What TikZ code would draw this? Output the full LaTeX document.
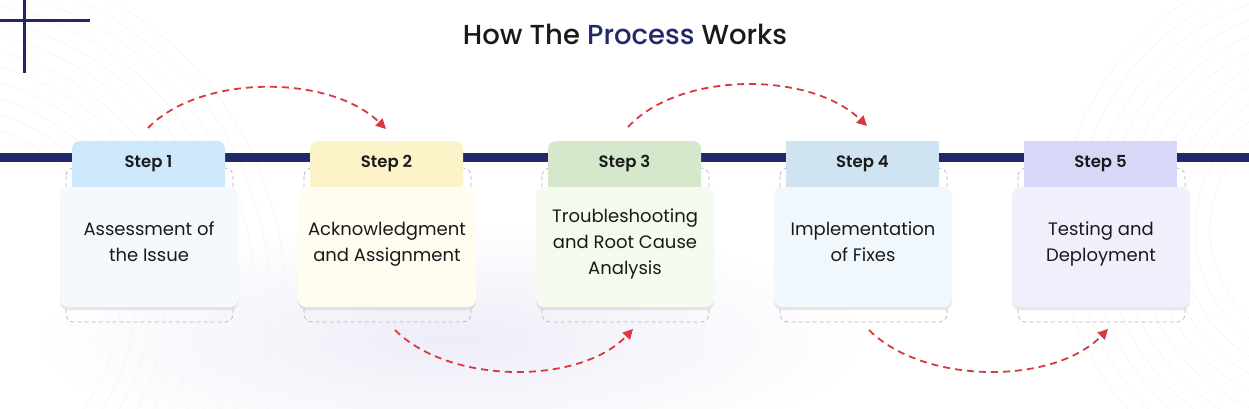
\documentclass[tikz,border=0pt]{standalone}
\usepackage{fontspec}
\setmainfont{Poppins}[BoldFont={Poppins SemiBold}]
\newfontfamily\popmed{Poppins Medium}
\usetikzlibrary{shadows,arrows.meta}
\definecolor{navy}{HTML}{22296B}
\definecolor{arrowred}{HTML}{D63A40}
\definecolor{txt}{HTML}{1A1A1A}
\definecolor{glow}{HTML}{EEEDF8}
\definecolor{tabA}{HTML}{CDE8FB}\definecolor{cardA}{HTML}{F5F9FE}
\definecolor{tabB}{HTML}{FDF3C9}\definecolor{cardB}{HTML}{FFFDF0}
\definecolor{tabC}{HTML}{D5E8CC}\definecolor{cardC}{HTML}{F5FCEF}
\definecolor{tabD}{HTML}{CFE4F0}\definecolor{cardD}{HTML}{F0F7FD}
\definecolor{tabE}{HTML}{D7D8F7}\definecolor{cardE}{HTML}{F0F0FC}
\tikzset{
  tabbox/.style={minimum width=153pt, minimum height=54pt, inner sep=0pt, draw=none},
  cardbox/.style={minimum width=178pt, minimum height=120pt, inner sep=0pt, rounded corners=8pt, draw=none,
    drop shadow={opacity=0.18, shadow xshift=0pt, shadow yshift=-3pt}},
  steplabel/.style={font=\bfseries\fontsize{16.5}{19}\selectfont, text=txt, inner sep=0pt},
  cardtext/.style={font=\fontsize{18}{26}\selectfont, text=txt, align=center, inner sep=0pt},
  outline/.style={draw=black!28, dash pattern=on 4pt off 3pt, line width=0.7pt, rounded corners=8pt},
  flow/.style={draw=arrowred, line width=1.8pt, dash pattern=on 7pt off 5pt, -{Triangle[length=10pt,width=10pt]}},
  swirl/.style={draw=black!4, line width=0.6pt}
}
\begin{document}
\begin{tikzpicture}[x=1pt,y=-1pt]
\useasboundingbox (0,0) rectangle (1249,409);
\fill[white] (0,0) rectangle (1249,409);
\shade[inner color=glow, outer color=white] (450,340) ellipse (420pt and 120pt);
% background swirls
\begin{scope}
\clip (0,0) rectangle (1249,409);
\foreach \r in {180,195,...,345} {\draw[swirl] (-60,300) circle (\r);}
\foreach \r in {120,135,...,270} {\draw[swirl] (1330,230) circle (\r);}
\end{scope}
% corner cross
\draw[navy, line width=3pt] (0,21) -- (90,21);
\draw[navy, line width=3pt] (24,0) -- (24,73);
% title
\node[font=\popmed\fontsize{27.5}{32}\selectfont, text=txt, inner sep=0pt] (title) at (625,34) {How The \textcolor{navy}{Process} Works};
% band
\fill[navy] (0,153) rectangle (1249,162);
% steps
\foreach \i/\tc/\cc/\rc/\lab/\body in {
  0/tabA/cardA/8/Step 1/{Assessment of\\the Issue},
  1/tabB/cardB/8/Step 2/{Acknowledgment\\and Assignment},
  2/tabC/cardC/8/Step 3/{Troubleshooting\\and Root Cause\\Analysis},
  3/tabD/cardD/0/Step 4/{Implementation\\of Fixes},
  4/tabE/cardE/0/Step 5/{Testing and\\Deployment}} {
  \pgfmathsetmacro{\x}{\i*238}
  \draw[outline] (66+\x,168) rectangle (233+\x,322);
  \node[tabbox, fill=\tc, rounded corners=\rc pt] (t\i) at (148.5+\x,168) {};
  \node[steplabel] (l\i) at (148.5+\x,163.5) {\lab};
  \node[cardbox, fill=\cc] (c\i) at (149+\x,247) {};
  \node[cardtext] (b\i) at ([yshift=2.5pt]c\i.center) {\body\vphantom{gy}};
}
% arrows
\coordinate (a1s) at (148,128); \coordinate (a1e) at (386,129);
\coordinate (a2s) at (395,330); \coordinate (a2e) at (633,329);
\coordinate (a3s) at (628,127); \coordinate (a3e) at (867,126);
\coordinate (a4s) at (869,330); \coordinate (a4e) at (1108,329);
\draw[flow] (a1s) .. controls (200,74) and (330,74) .. (a1e);
\draw[flow] (a2s) .. controls (450,385) and (580,385) .. (a2e);
\draw[flow] (a3s) .. controls (680,71) and (810,71) .. (a3e);
\draw[flow] (a4s) .. controls (924,385) and (1054,385) .. (a4e);
\end{tikzpicture}
\end{document}
